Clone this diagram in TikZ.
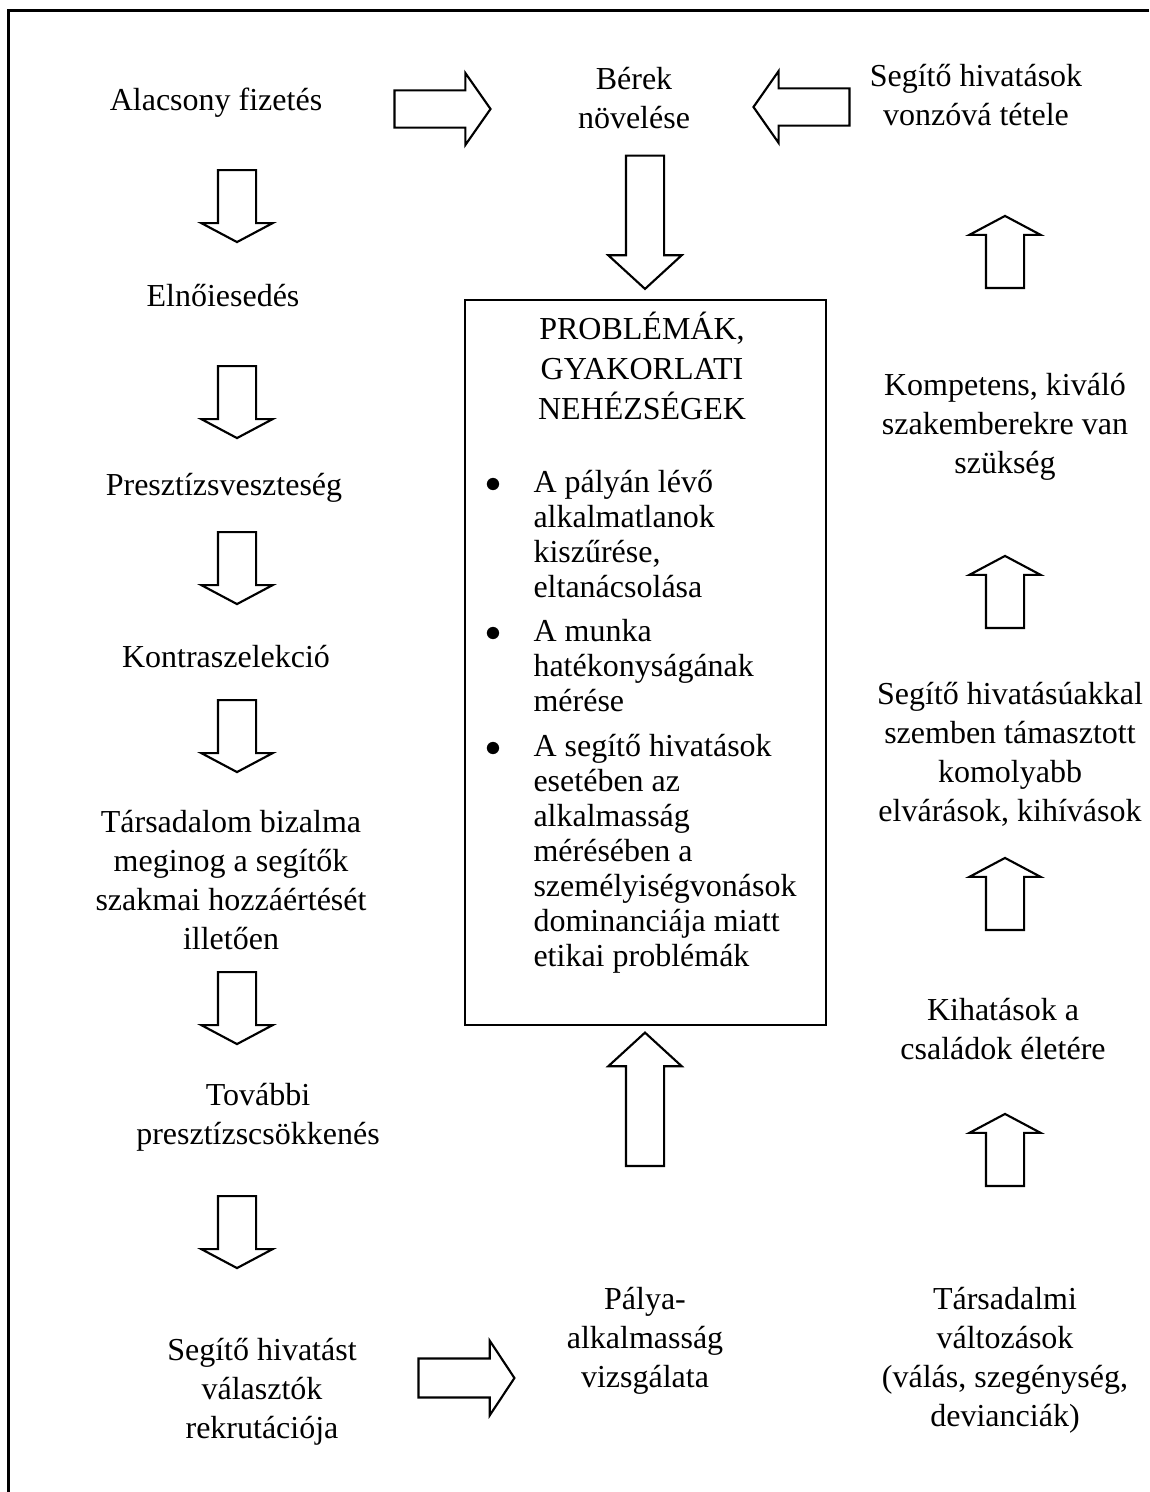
\documentclass[tikz,border=0pt]{standalone}
\usepackage{fontspec}
\setmainfont{Liberation Serif}
\usetikzlibrary{shapes.arrows}

\tikzset{
  txt/.style = {align = center, inner sep = 0pt,
                font = \fontsize{12}{14.6}\selectfont},
  blk/.style = {single arrow, draw, line width = 0.8pt, inner sep = 6.75pt,
                single arrow head indent = 0pt},
  colarrow/.style = {blk, minimum height = 27pt,
                single arrow head extend = 6.2pt, single arrow tip angle = 124},
  toparrow/.style = {blk, minimum height = 36pt, inner sep = 6.6pt,
                single arrow head extend = 6.5pt, single arrow tip angle = 110},
  midarrow/.style = {blk, minimum height = 50pt,
                single arrow head extend = 6.6pt, single arrow tip angle = 95},
  goesdown/.style = {shape border rotate = 270},
  goesup/.style = {shape border rotate = 90},
  goesleft/.style = {shape border rotate = 180}
}

\begin{document}
\begin{tikzpicture}[x = 0.375pt, y = -0.375pt]
\useasboundingbox (0,0) rectangle (1149,1492);
% frame, runs off the page on the right and at the bottom
\coordinate (frameTR) at (1149,10.5);
\coordinate (frameTL) at (8.5,10.5);
\coordinate (frameBL) at (8.5,1492);
\draw[line width = 0.8pt] (frameTR) -- (frameTL) -- (frameBL);

% left column
\node[txt] (fizetes) at (216,103) {Alacsony fizetés};
\node[txt] (elnoi) at (223,296) {Elnőiesedés};
\node[txt] (presztizs) at (224,488) {Presztízsveszteség};
\node[txt] (kontra) at (226,657) {Kontraszelekció};
\node[txt] (bizalom) at (231,880) {Társadalom bizalma\\meginog a segítők\\szakmai hozzáértését\\illetően};
\node[txt] (tovabbi) at (258,1117) {További\\presztízscsökkenés};
\node[txt] (rekrut) at (262,1392) {Segítő hivatást\\választók\\rekrutációja};

\node[colarrow, goesdown] (a1) at (237,201) {};
\node[colarrow, goesdown] (a2) at (237,397) {};
\node[colarrow, goesdown] (a3) at (237,563) {};
\node[colarrow, goesdown] (a4) at (237,731) {};
\node[colarrow, goesdown] (a5) at (237,1003) {};
\node[colarrow, goesdown] (a6) at (237,1227) {};

% middle column
\node[txt] (berek) at (634,98) {Bérek\\növelése};
\node[toparrow] (b1) at (436,109) {};
\node[toparrow, goesleft] (b2) at (808,107) {};
\node[midarrow, goesdown] (b3) at (645,213.5) {};

\node[draw, line width = 0.8pt, inner sep = 0pt,
      minimum width = 135.4pt, minimum height = 272pt] (prob) at (645.5,662.5) {};
\node[txt, font = \fontsize{12}{15}\selectfont] (cim) at (642,366) {PROBLÉMÁK,\\GYAKORLATI\\NEHÉZSÉGEK};
\node[inner sep = 0pt, anchor = base west, font = \fontsize{12}{13.125}\selectfont] (pontok) at (485,492)
  {\renewcommand{\arraystretch}{1}%
   \begin{tabular}[t]{@{}l@{\hspace{12pt}}l@{}}
   $\bullet$ & A pályán lévő\\
             & alkalmatlanok\\
             & kiszűrése,\\
             & eltanácsolása\\[3.6pt]
   $\bullet$ & A munka\\
             & hatékonyságának\\
             & mérése\\[3.6pt]
   $\bullet$ & A segítő hivatások\\
             & esetében az\\
             & alkalmasság\\
             & mérésében a\\
             & személyiségvonások\\
             & dominanciája miatt\\
             & etikai problémák
   \end{tabular}};

\node[midarrow, goesup] (b4) at (645,1108) {};
\node[txt] (palya) at (645,1341) {Pálya-\\alkalmasság\\vizsgálata};
\node[toparrow, inner sep = 6.9pt, single arrow head extend = 6.7pt,
      single arrow tip angle = 113] (b5) at (460,1378) {};

% right column
\node[txt] (vonzo) at (976,95) {Segítő hivatások\\vonzóvá tétele};
\node[txt] (kompetens) at (1005,427) {Kompetens, kiváló\\szakemberekre van\\szükség};
\node[txt] (elvaras) at (1010,754) {Segítő hivatásúakkal\\szemben támasztott\\komolyabb\\elvárások, kihívások};
\node[txt] (kihatas) at (1003,1029) {Kihatások a\\családok életére};
\node[txt] (valtozas) at (1005,1360) {Társadalmi\\változások\\(válás, szegénység,\\devianciák)};

\node[colarrow, goesup] (c1) at (1005,257) {};
\node[colarrow, goesup] (c2) at (1005,597) {};
\node[colarrow, goesup] (c3) at (1005,899) {};
\node[colarrow, goesup] (c4) at (1005,1155) {};
\end{tikzpicture}
\end{document}
